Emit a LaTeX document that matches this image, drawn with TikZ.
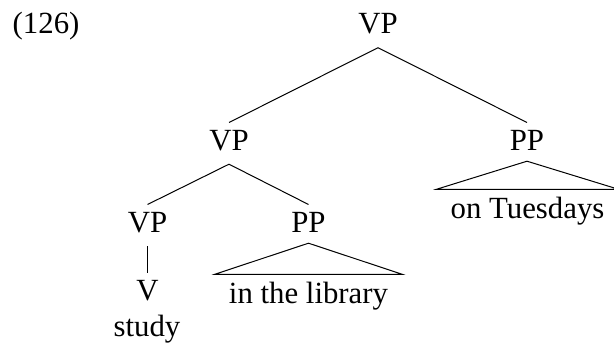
\documentclass[tikz,border=0pt]{standalone}
\usepackage{fontspec}
\setmainfont{Liberation Serif}
\begin{document}
\begin{tikzpicture}[x=1pt,y=-1pt,
  every node/.style={font=\fontsize{30.8}{37}\selectfont, inner sep=0pt},
  cat/.style={anchor=base, text height=27.3pt, text depth=14pt, inner ysep=0pt},
  catpp/.style={anchor=base, text height=27.3pt, text depth=11pt, inner ysep=0pt},
  word/.style={anchor=base, text height=27.3pt, text depth=0pt, inner ysep=0pt},
  phrase/.style={anchor=base, text height=28.5pt, text depth=0pt, inner xsep=14pt, inner ysep=0pt},
  edge/.style={line width=1pt, black},
  roof/.style={line width=1pt, black, line join=miter}]
\useasboundingbox (0,0) rectangle (614,345);
\node[anchor=base west] (num) at (12.5,34) {(126)};
\node[cat] (vp0) at (378,33.5) {VP};
\node[cat] (vp1) at (229,150) {VP};
\node[catpp] (pp1) at (527,150) {PP};
\node[phrase] (tue) at (527.5,218) {on Tuesdays};
\node[cat] (vp2) at (147.5,232) {VP};
\node[catpp] (pp2) at (308.5,232) {PP};
\node[word] (v) at (147.5,300) {V};
\node[phrase] (lib) at (308.5,303) {in the library};
\node[anchor=base] (study) at (147,336) {study};
\draw[edge] (vp1.north) -- (vp0.south) -- (pp1.north);
\draw[edge] (vp2.north) -- (vp1.south) -- (pp2.north);
\draw[edge] (vp2.south) -- (v.north);
\draw[roof] (pp1.south) -- (tue.north west) -- (tue.north east) -- cycle;
\draw[roof] (pp2.south) -- (lib.north west) -- (lib.north east) -- cycle;
\end{tikzpicture}
\end{document}
